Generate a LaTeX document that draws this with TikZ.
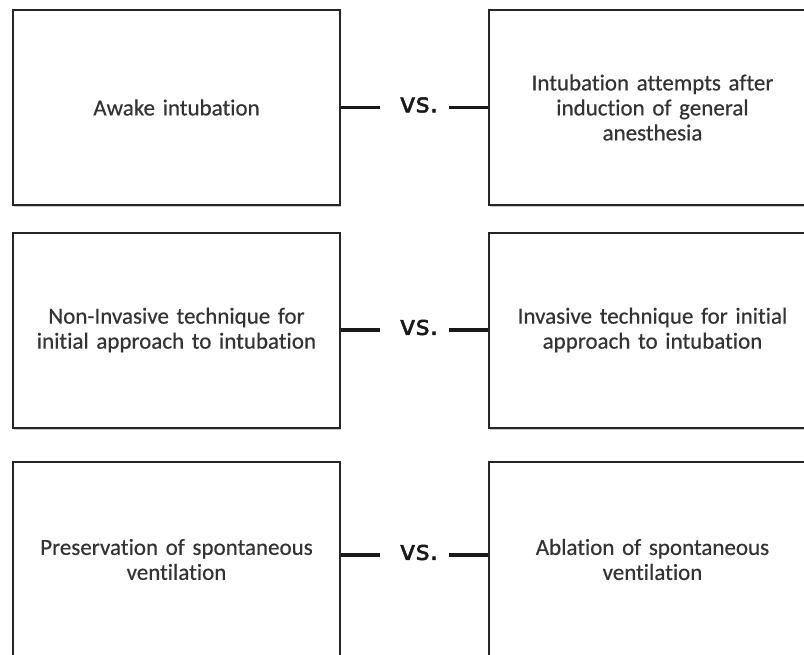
\documentclass[tikz,border=0pt]{standalone}
\usepackage{fontspec}
\newfontfamily\boxfont[Ligatures=NoCommon,FakeBold=0.4]{Carlito}
\newfontfamily\vsfont[FakeBold=1.6]{DejaVu Sans}
\usetikzlibrary{shadows}
\begin{document}
\begin{tikzpicture}[x=1pt,y=-1pt,
  choice/.style={draw=black!85, line width=2pt, fill=white, rectangle,
    minimum width=327pt, minimum height=195pt, inner sep=0pt,
    text width=300pt, align=center, text=black!80,
    font={\boxfont\fontsize{23}{25}\selectfont},
    drop shadow={shadow xshift=0.8pt, shadow yshift=-2pt, opacity=0.22, fill=black}},
  vslabel/.style={inner sep=0pt, text=black!90, font={\vsfont\fontsize{27}{29}\selectfont}},
  link/.style={draw=black!90, line width=3.5pt}]
\useasboundingbox (0,0) rectangle (804,654);
\clip (0,0) rectangle (804,654);
\fill[white] (0,0) rectangle (804,654);

% row 1
\node[choice] (L1) at (176.5,107.5) {Awake intubation};
\node[choice] (R1) at (652.5,107.5) {Intubation attempts after\\induction of general\\anesthesia};
\node[vslabel] (v1) at (419,105) {vs.};
\coordinate (a1) at (380,107.5);
\coordinate (b1) at (449,107.5);
\draw[link] (L1.east |- a1) -- (a1);
\draw[link] (b1) -- (R1.west |- b1);

% row 2
\node[choice] (L2) at (176.5,330) {Non-Invasive technique for\\initial approach to intubation};
\node[choice] (R2) at (652.5,330) {Invasive technique for initial\\approach to intubation};
\node[vslabel] (v2) at (419,327.5) {vs.};
\coordinate (a2) at (380,330);
\coordinate (b2) at (449,330);
\draw[link] (L2.east |- a2) -- (a2);
\draw[link] (b2) -- (R2.west |- b2);

% row 3
\node[choice] (L3) at (176.5,559.5) {Preservation of spontaneous\\ventilation};
\node[choice] (R3) at (652.5,559.5) {Ablation of spontaneous\\ventilation};
\node[vslabel] (v3) at (419,552.5) {vs.};
\coordinate (a3) at (380,555);
\coordinate (b3) at (449,555);
\draw[link] (L3.east |- a3) -- (a3);
\draw[link] (b3) -- (R3.west |- b3);
\end{tikzpicture}
\end{document}
